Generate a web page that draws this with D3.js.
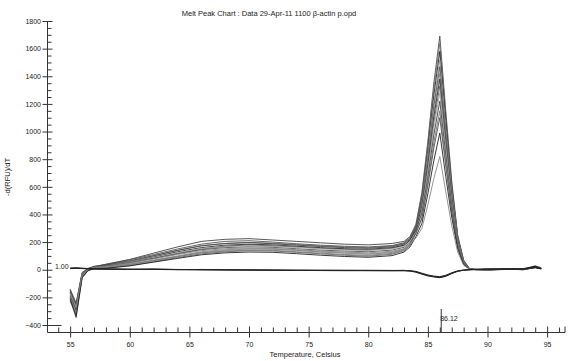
<!DOCTYPE html>
<html><head><meta charset="utf-8">
<script src="https://cdn.jsdelivr.net/npm/d3@7"></script>
<style>
html,body{margin:0;padding:0;background:#fff;}
svg{display:block;font-family:"Liberation Sans",Arial,sans-serif;}
</style></head>
<body><svg id="c" width="575" height="361"></svg>
<script>
const chartTitle = "Melt Peak Chart : Data 29-Apr-11 1100 \u03b2-actin p.opd";
const xLabel = "Temperature, Celsius";
const yLabel = "-d(RFU)/dT";
const xMajorTicks = [55,60,65,70,75,80,85,90,95];
const yMajorTicks = [-400,-200,0,200,400,600,800,1000,1200,1400,1600,1800];
const peakTemp = 86.12;
const thresholdLabel = "1.00";

const temps = [55,55.5,56,56.5,57,58,60,62,64,66,68,70,72,74,76,78,80,82,83,83.5,84,84.5,85,85.5,86,86.5,87,87.5,88,88.5,89,90,92,93,94,94.5];

const sampleA = [-150,-260,-30,5,20,40,75,120,165,205,220,225,215,205,195,185,180,190,205,240,330,560,930,1350,1690,1150,640,250,70,8,3,0,6,2,25,12];
const sampleB = [-200,-330,-50,0,15,30,60,100,140,175,190,198,192,182,172,165,160,172,190,228,320,540,900,1310,1640,1110,620,240,65,6,2,0,4,1,20,8];
const sampleC = [-170,-290,-35,5,18,25,50,85,120,150,170,180,172,165,155,148,142,155,175,212,305,520,870,1260,1580,1080,600,235,62,5,1,-2,3,0,18,10];
const sampleD = [-220,-350,-60,-5,10,15,35,65,95,125,140,150,148,140,130,122,115,128,150,188,295,500,840,1215,1520,1030,575,225,58,4,0,-1,5,2,22,12];
const sampleE = [-140,-240,-20,10,25,38,72,110,150,185,205,210,200,188,178,170,165,175,195,232,310,495,810,1180,1470,1000,555,215,55,6,2,1,6,3,28,15];
const sampleF = [-190,-300,-45,0,12,20,42,70,100,130,145,152,150,140,128,120,112,125,148,185,285,470,780,1140,1420,965,540,210,52,5,1,0,4,1,18,9];
const sampleG = [-160,-280,-30,5,20,30,55,92,130,160,178,185,180,170,160,152,148,160,178,210,290,460,760,1105,1380,940,525,205,50,4,1,0,5,2,20,10];
const sampleH = [-230,-320,-55,-8,8,12,30,58,88,115,130,138,136,126,115,105,98,112,138,176,272,440,730,1065,1330,905,505,198,48,5,2,0,3,1,16,8];
const sampleI = [-175,-270,-40,2,16,28,55,88,122,152,168,175,170,162,152,144,140,152,170,205,280,425,705,1025,1280,870,485,190,46,4,1,0,4,2,24,12];
const sampleJ = [-150,-250,-25,8,22,35,65,102,140,172,190,196,188,178,168,160,155,166,186,220,285,410,670,975,1220,830,465,182,44,5,2,1,5,2,22,11];
const sampleK = [-200,-310,-50,-3,12,18,38,66,95,122,135,142,140,130,120,110,104,118,142,178,262,380,635,920,1150,785,440,172,42,4,1,0,4,1,18,9];
const sampleL = [-185,-290,-38,3,17,26,52,82,115,145,160,166,162,152,142,135,130,142,162,195,265,370,610,880,1100,750,420,165,40,4,1,0,4,2,20,10];
const sampleM = [-210,-340,-58,-6,9,10,28,55,82,108,122,128,126,116,105,96,90,102,128,165,240,335,550,790,990,675,380,150,36,3,1,0,3,1,15,8];
const sampleN = [-165,-275,-32,4,18,22,48,78,110,138,152,158,154,145,135,128,122,134,152,182,230,300,470,660,820,565,320,128,32,3,1,0,3,1,17,9];

const ntc1 = [10,12,10,8,6,5,3,2,0,2,0,-2,-3,-4,-5,-5,-6,-6,-5,-8,-15,-30,-42,-50,-55,-45,-25,-10,-3,0,2,5,3,5,15,5];
const ntc2 = [8,10,8,6,5,4,2,6,1,-1,-2,-3,-4,-5,-6,-7,-7,-8,-8,-10,-18,-32,-45,-52,-58,-48,-28,-12,-4,-1,1,4,6,3,20,8];
const ntc3 = [12,14,11,9,7,6,4,3,2,0,-1,-1,-2,-3,-3,-4,-4,-5,-5,-7,-12,-25,-38,-46,-50,-40,-22,-8,-2,1,3,6,4,8,25,10];

const sampleSeries = [sampleA,sampleB,sampleC,sampleD,sampleE,sampleF,sampleG,sampleH,sampleI,sampleJ,sampleK,sampleL,sampleM,sampleN];
const ntcSeries = [ntc1,ntc2,ntc3];
const sampleColors = ["#444","#777","#222","#999","#555","#888","#333","#666","#aaa","#444","#777","#555","#222","#888"];

const svg = d3.select("#c");
const x = d3.scaleLinear().domain([53.1, 96.5]).range([47.5, 565]);
const y = d3.scaleLinear().domain([-400, 1800]).range([325, 21]);
const axisY = 332.5;

svg.append("text").attr("x", 269).attr("y", 16).attr("text-anchor","middle")
  .attr("font-size", 7.5).attr("fill","#222").text(chartTitle);

// curves
const line = d3.line().x((d,i)=>x(temps[i])).y(d=>y(d));
const g = svg.append("g");
sampleSeries.forEach((s,k)=>{
  g.append("path").attr("d", line(s)).attr("fill","none")
   .attr("stroke", sampleColors[k]).attr("stroke-width", 0.9);
});
ntcSeries.forEach(s=>{
  g.append("path").attr("d", line(s)).attr("fill","none")
   .attr("stroke", "#222").attr("stroke-width", 1);
});

// y axis
const yAx = svg.append("g").attr("transform","translate(47.5,0)")
  .call(d3.axisLeft(y).tickValues(yMajorTicks).tickSize(5).tickPadding(2).tickFormat(d3.format("d")));
yAx.select(".domain").remove();
yAx.selectAll(".tick line").attr("x1",5).attr("x2",-5).attr("stroke","#333");
yAx.selectAll(".tick").filter(d=>d===-400).select("line").attr("x2",-5).attr("x1",14);
yAx.selectAll(".tick text").attr("font-size",7).attr("fill","#222").attr("x",-6.5)
  .attr("font-family","'Liberation Sans',Arial,sans-serif");
const yMinor = d3.range(-350, 1800, 50).filter(v=>v%200!==0);
const yMin = svg.append("g").attr("transform","translate(47.5,0)")
  .call(d3.axisRight(y).tickValues(yMinor).tickSize(4).tickFormat(""));
yMin.select(".domain").remove();
yMin.selectAll(".tick line").attr("stroke","#333");
svg.append("line").attr("x1",47.5).attr("x2",47.5).attr("y1",21).attr("y2",axisY).attr("stroke","#333");

// x axis
const xAx = svg.append("g").attr("transform",`translate(0,${axisY})`)
  .call(d3.axisBottom(x).tickValues(xMajorTicks).tickSize(5).tickPadding(5).tickFormat(d3.format("d")));
xAx.select(".domain").remove();
xAx.selectAll(".tick line").attr("y1",-6).attr("y2",5).attr("stroke","#333");
xAx.selectAll(".tick text").attr("font-size",7).attr("fill","#222")
  .attr("font-family","'Liberation Sans',Arial,sans-serif");
const xMinor = d3.range(54, 97, 1).filter(v=>v%5!==0);
const xMin = svg.append("g").attr("transform",`translate(0,${axisY})`)
  .call(d3.axisTop(x).tickValues(xMinor).tickSize(5).tickFormat(""));
xMin.select(".domain").remove();
xMin.selectAll(".tick line").attr("stroke","#333");
svg.append("line").attr("x1",47.5).attr("x2",565).attr("y1",axisY).attr("y2",axisY).attr("stroke","#333");
svg.append("line").attr("x1",565).attr("x2",565).attr("y1",axisY-6).attr("y2",axisY).attr("stroke","#333");

svg.append("text").attr("x", 305).attr("y", 357).attr("text-anchor","middle")
  .attr("font-size",7.5).attr("fill","#222").text(xLabel);
svg.append("text").attr("transform","translate(10,177) rotate(-90)").attr("text-anchor","middle")
  .attr("font-size",7.5).attr("fill","#222").text(yLabel);

// peak marker
svg.append("line").attr("x1",x(peakTemp)).attr("x2",x(peakTemp)).attr("y1",309).attr("y2",axisY)
  .attr("stroke","#333");
svg.append("text").attr("x",x(peakTemp)-1).attr("y",321).attr("font-size",7).attr("fill","#222")
  .text(peakTemp.toFixed(2));

// threshold label
svg.append("text").attr("x",55).attr("y",268.5).attr("font-size",7).attr("fill","#222").text(thresholdLabel);
</script></body></html>
